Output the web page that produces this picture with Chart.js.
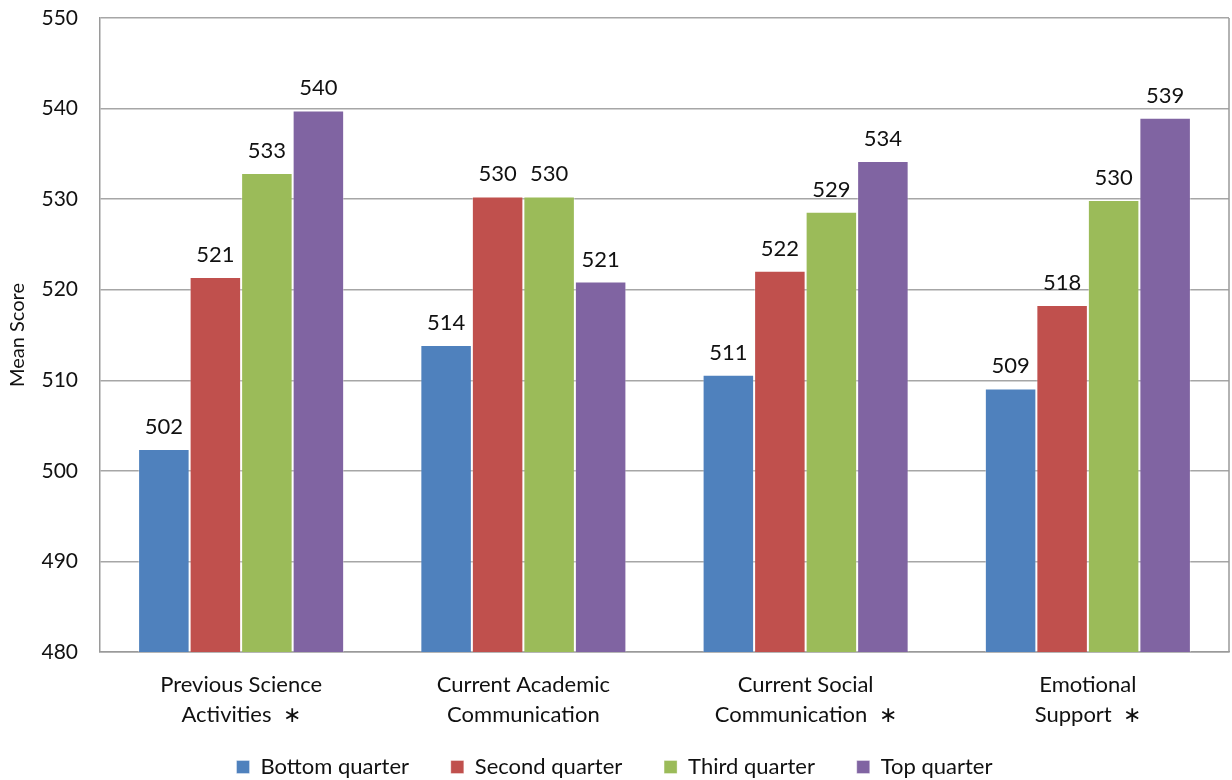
<!DOCTYPE html>
<html lang="en">
<head>
    <meta charset="UTF-8">
    <title>Mean Score by Quarter</title>
    <script src="https://cdn.jsdelivr.net/npm/chart.js"></script>
    <style>
        body {
            margin: 0;
            background: #fff;
        }

        .wrap {
            width: 1232px;
            height: 780px;
        }
    </style>
</head>
<body>
    <div class="wrap">
        <canvas id="chart" width="1232" height="780"></canvas>
    </div>

    <script>
        const categories = [
            ["Previous Science", "Activities  \u2217"],
            ["Current Academic", "Communication"],
            ["Current Social", "Communication  \u2217"],
            ["Emotional", "Support  \u2217"]
        ];
        const bottomQuarter = [502.4, 513.9, 510.6, 509.1];
        const secondQuarter = [521.4, 530.3, 522.1, 518.3];
        const thirdQuarter = [532.9, 530.3, 528.6, 529.9];
        const topQuarter = [539.8, 520.9, 534.2, 539.0];
        const yTicks = [480, 490, 500, 510, 520, 530, 540, 550];

        const FONT = "Lato, 'Open Sans', sans-serif";
        const AXIS_GREY = '#9a9a9a';

        // draws the rounded value above each bar
        const valueLabels = {
            id: 'valueLabels',
            afterDatasetsDraw(chart) {
                const ctx = chart.ctx;
                ctx.save();
                ctx.font = "22px " + FONT;
                ctx.fillStyle = '#111';
                ctx.textAlign = 'center';
                ctx.textBaseline = 'alphabetic';
                chart.data.datasets.forEach((ds, i) => {
                    chart.getDatasetMeta(i).data.forEach((bar, j) => {
                        ctx.fillText(Math.round(ds.data[j]), bar.x, bar.y - 15);
                    });
                });
                ctx.restore();
            }
        };

        // right edge of the plot box
        const rightEdge = {
            id: 'rightEdge',
            beforeDatasetsDraw(chart) {
                const { ctx, chartArea } = chart;
                ctx.save();
                ctx.strokeStyle = AXIS_GREY;
                ctx.lineWidth = 1.5;
                ctx.beginPath();
                ctx.moveTo(chartArea.right, chartArea.top);
                ctx.lineTo(chartArea.right, chartArea.bottom);
                ctx.stroke();
                ctx.restore();
            }
        };

        const barBorder = 'rgba(255,255,255,0.35)';
        const defaultLabels = Chart.defaults.plugins.legend.labels.generateLabels;

        new Chart(document.getElementById("chart"), {
            type: 'bar',
            data: {
                labels: categories,
                datasets: [
                    { label: 'Bottom quarter', data: bottomQuarter, backgroundColor: '#4F81BD' },
                    { label: 'Second quarter', data: secondQuarter, backgroundColor: '#C0504D' },
                    { label: 'Third quarter', data: thirdQuarter, backgroundColor: '#9BBB59' },
                    { label: 'Top quarter', data: topQuarter, backgroundColor: '#8064A2' }
                ]
            },
            options: {
                responsive: false,
                animation: false,
                layout: { padding: { top: 18, right: 3, left: 0, bottom: -8 } },
                datasets: {
                    bar: {
                        categoryPercentage: 0.73,
                        barPercentage: 1.0,
                        borderWidth: 1,
                        borderColor: barBorder
                    }
                },
                plugins: {
                    tooltip: { enabled: false },
                    legend: {
                        position: 'bottom',
                        labels: {
                            font: { size: 22, family: FONT },
                            color: '#111',
                            boxWidth: 13,
                            boxHeight: 13,
                            padding: 8,
                            // extra room between legend entries without a taller legend box
                            generateLabels: (chart) => defaultLabels(chart).map((item, i, all) => {
                                if (i < all.length - 1) item.text += '      ';
                                return item;
                            })
                        }
                    }
                },
                scales: {
                    x: {
                        grid: { display: false },
                        border: { color: AXIS_GREY, width: 1.5 },
                        afterFit: (axis) => { axis.height = 96; },
                        ticks: {
                            font: { size: 22, family: FONT, lineHeight: 1.36 },
                            color: '#111',
                            padding: 10,
                            maxRotation: 0
                        }
                    },
                    y: {
                        min: 480,
                        max: 550,
                        afterBuildTicks: (axis) => { axis.ticks = yTicks.map(v => ({ value: v })); },
                        afterFit: (axis) => { axis.width = 100; },
                        grid: { color: '#a6a6a6', lineWidth: 1.5, tickLength: 18, tickColor: 'rgba(0,0,0,0)' },
                        border: { color: AXIS_GREY, width: 1.5 },
                        ticks: {
                            font: { size: 21, family: FONT },
                            color: '#111',
                            padding: 4
                        },
                        title: {
                            display: true,
                            text: 'Mean Score',
                            font: { size: 20, family: FONT },
                            color: '#111',
                            padding: { top: 6, bottom: 4 }
                        }
                    }
                }
            },
            plugins: [valueLabels, rightEdge]
        });
    </script>
</body>
</html>
